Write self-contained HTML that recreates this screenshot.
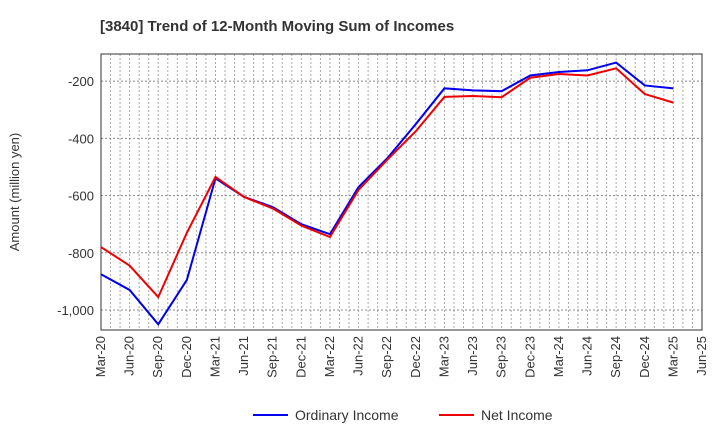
<!DOCTYPE html>
<html><head><meta charset="utf-8"><style>
body{margin:0;background:#fff;font-family:"Liberation Sans",Arial,sans-serif}
</style></head><body>
<svg id="c" width="720" height="440" xmlns="http://www.w3.org/2000/svg">
<text x="100" y="31" font-size="15" font-weight="bold" fill="#333">[3840]  Trend of 12-Month Moving Sum of Incomes</text>
<text transform="translate(19,192) rotate(-90)" text-anchor="middle" font-size="13" fill="#333">Amount (million yen)</text>
<g id="grid"></g><g id="axes"></g><g id="series"></g>
<g>
<line x1="253" y1="415" x2="288" y2="415" stroke="#0000ee" stroke-width="2"/>
<text x="295" y="420" font-size="14" fill="#333">Ordinary Income</text>
<line x1="439" y1="415" x2="474" y2="415" stroke="#ee0000" stroke-width="2"/>
<text x="481" y="420" font-size="14" fill="#333">Net Income</text>
</g>
</svg>
<script>
const categories=["Mar-20","Jun-20","Sep-20","Dec-20","Mar-21","Jun-21","Sep-21","Dec-21","Mar-22","Jun-22","Sep-22","Dec-22","Mar-23","Jun-23","Sep-23","Dec-23","Mar-24","Jun-24","Sep-24","Dec-24","Mar-25","Jun-25"];
const ordinaryIncome=[-875,-930,-1050,-895,-540,-605,-640,-700,-735,-570,-470,-350,-225,-232,-235,-180,-168,-162,-135,-215,-225];
const netIncome=[-780,-845,-955,-730,-535,-605,-645,-705,-745,-580,-475,-375,-255,-252,-256,-188,-175,-180,-155,-245,-275];
const yTicks=[-200,-400,-600,-800,-1000];
const yTickLabels=["-200","-400","-600","-800","-1,000"];
const NS="http://www.w3.org/2000/svg";
const L=101,R=702,T=54,B=330,yMin=-1070,yMax=-105;
const xs=i=>L+(R-L)*i/(categories.length-1);
const ys=v=>B-(v-yMin)/(yMax-yMin)*(B-T);
function mk(tag,attrs,parent){const e=document.createElementNS(NS,tag);for(const k in attrs)e.setAttribute(k,attrs[k]);parent.appendChild(e);return e;}
const grid=document.getElementById('grid'),axes=document.getElementById('axes'),ser=document.getElementById('series');
const nMonths=(categories.length-1)*3;
for(let m=1;m<nMonths;m++){const x=L+(R-L)*m/nMonths;
 const g=mk('line',{x1:x,x2:x,y1:T,y2:B,stroke:'#aaa','stroke-width':1,'stroke-dasharray':'2,2'},grid);
 
 }
yTicks.forEach((v,i)=>{const y=ys(v);
 const g=mk('line',{x1:L,x2:R,y1:y,y2:y,stroke:'#888','stroke-width':1,'stroke-dasharray':'2,2'},grid);
 
 
 const t=mk('text',{x:L-7,y:y+5,'text-anchor':'end','font-size':13,fill:'#333'},axes);t.textContent=yTickLabels[i];
 
 });
const fr=mk('rect',{x:L,y:T,width:R-L,height:B-T,fill:'none',stroke:'#333','stroke-width':1},axes);


categories.forEach((c,i)=>{const x=xs(i);
 const t=mk('text',{transform:`translate(${x+4},${B+6}) rotate(-90)`,'text-anchor':'end','font-size':13,fill:'#333'},axes);t.textContent=c;
 
 });
function line(data,color,name){const p=mk('polyline',{points:data.map((v,i)=>xs(i)+','+ys(v)).join(' '),fill:'none',stroke:color,'stroke-width':2},ser);
 
 }
line(ordinaryIncome,'#0000ee','ordinary-income-line');
line(netIncome,'#ee0000','net-income-line');
</script>
</body></html>
